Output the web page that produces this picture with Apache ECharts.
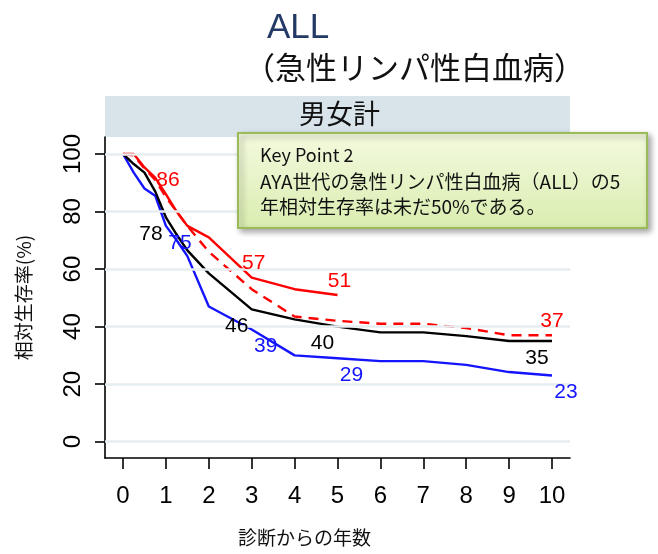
<!DOCTYPE html>
<html>
<head>
<meta charset="utf-8">
<script src="https://cdn.jsdelivr.net/npm/echarts@6/dist/echarts.min.js"></script>
<style>
  html, body { margin: 0; padding: 0; background: #fff; }
  #chart { width: 658px; height: 554px; }
</style>
</head>
<body>
<div id="chart"></div>
<script>
// Years since diagnosis at which survival is plotted
const years = [0, 0.25, 0.5, 0.75, 1, 1.25, 1.5, 2, 3, 4, 5, 6, 7, 8, 9, 10];

// Relative survival (%) per curve
const redSolid  = [100, 100, 95.3, 91.8, 86, 80, 75, 71, 57, 53, 51];
const redDashed = [100, 99.5, 95, 91, 85, 80, 75, 66, 53, 43.5, 42, 41, 41, 39.5, 37, 37];
const black     = [100, 96.5, 93.5, 87, 78, 72, 66.5, 58.5, 46, 42.5, 40, 38, 38, 36.7, 35, 35];
const blue      = [100, 93.5, 88, 85.5, 75, 70, 64.5, 47, 39, 30, 29, 28, 28, 26.7, 24.2, 23];

// Years whose values are written next to each curve
const redSolidLabelYears  = [1, 3, 5];
const redDashedLabelYears = [10];
const blackLabelYears     = [1, 3, 5, 10];
const blueLabelYears      = [1, 3, 5, 10];

// Axis ticks
const xTicks = [0, 1, 2, 3, 4, 5, 6, 7, 8, 9, 10];
const yTicks = [0, 20, 40, 60, 80, 100];

const NUM_FONT = '"Liberation Sans Narrow", "Liberation Sans", Arial, sans-serif';
const JP_FONT = '"Noto Sans CJK JP", "Noto Sans", sans-serif';

const pairs = vals => vals.map((v, i) => [years[i], v]);

function labelSeries(name, vals, labelYears, color, offset) {
  return {
    name: name,
    type: 'scatter',
    silent: true,
    symbolSize: 2,
    itemStyle: { color: 'rgba(0,0,0,0)', opacity: 1 },
    z: 5,
    data: labelYears.map(y => [y, vals[years.indexOf(y)]]),
    label: {
      show: true,
      position: 'inside',
      offset: offset,
      color: color,
      fontFamily: NUM_FONT,
      fontSize: 21,
      formatter: p => String(Math.round(p.value[1]))
    }
  };
}

const chart = echarts.init(document.getElementById('chart'), null, { renderer: 'canvas' });

chart.setOption({
  animation: false,
  backgroundColor: '#ffffff',
  grid: { left: 105, right: 88, top: 137, bottom: 96, containLabel: false },
  xAxis: {
    type: 'value',
    min: -0.42,
    max: 10.42,
    name: '診断からの年数',
    nameLocation: 'middle',
    nameGap: 70,
    nameTextStyle: { fontFamily: JP_FONT, fontSize: 19, color: '#111', padding: [0, 66, 0, 0] },
    axisLine: { show: true, onZero: false, lineStyle: { color: '#000', width: 1.6 } },
    axisTick: { show: true, customValues: xTicks, length: 11, lineStyle: { color: '#000', width: 1.6 } },
    axisLabel: { customValues: xTicks, margin: 26, fontFamily: NUM_FONT, fontSize: 24, color: '#000' },
    splitLine: { show: false }
  },
  yAxis: {
    type: 'value',
    min: -5.67,
    max: 105.9,
    name: '相対生存率(%)',
    nameLocation: 'middle',
    nameGap: 72,
    nameRotate: 90,
    nameTextStyle: { fontFamily: JP_FONT, fontSize: 19, color: '#111' },
    axisLine: { show: true, onZero: false, lineStyle: { color: '#000', width: 1.6 } },
    axisTick: { show: true, customValues: yTicks, length: 10, lineStyle: { color: '#000', width: 1.6 } },
    axisLabel: { customValues: yTicks, rotate: 90, margin: 20, fontFamily: NUM_FONT, fontSize: 24, color: '#000' },
    splitLine: { show: false }
  },
  series: [
    {
      name: 'grid',
      type: 'line',
      data: [],
      silent: true,
      z: 1,
      markLine: {
        silent: true,
        symbol: 'none',
        label: { show: false },
        lineStyle: { color: '#e6eef1', type: 'solid', width: 2.5 },
        data: yTicks.map(v => ({ yAxis: v }))
      }
    },
    {
      name: 'blue',
      type: 'line',
      data: pairs(blue),
      showSymbol: false,
      lineStyle: { color: '#1414ff', width: 2.4 },
      z: 3
    },
    {
      name: 'black',
      type: 'line',
      data: pairs(black),
      showSymbol: false,
      lineStyle: { color: '#000000', width: 2.4 },
      z: 3
    },
    {
      name: 'redDashed',
      type: 'line',
      data: pairs(redDashed),
      showSymbol: false,
      lineStyle: { color: '#ff0000', width: 2.4, type: [10, 7] },
      z: 3
    },
    {
      name: 'redSolid',
      type: 'line',
      data: pairs(redSolid),
      showSymbol: false,
      lineStyle: { color: '#ff0000', width: 2.4 },
      z: 4
    },
    labelSeries('redSolidLabels', redSolid, redSolidLabelYears, '#ff0000', [2, -14]),
    labelSeries('redDashedLabels', redDashed, redDashedLabelYears, '#ff0000', [0, -14]),
    labelSeries('blackLabels', black, blackLabelYears, '#000000', [-15, 17]),
    labelSeries('blueLabels', blue, blueLabelYears, '#1414ff', [14, 17])
  ],
  graphic: [
    {
      type: 'text', left: 267, top: 11, z: 100,
      style: { text: 'ALL', fill: '#243a66', font: '35px ' + NUM_FONT }
    },
    {
      type: 'text', left: 244, top: 52, z: 100,
      style: { text: '（急性リンパ性白血病）', fill: '#111', font: '31px ' + JP_FONT }
    },
    {
      type: 'rect', z: 0,
      shape: { x: 105, y: 96, width: 465, height: 41 },
      style: { fill: '#d8e4ea' }
    },
    {
      type: 'text', z: 100, left: 299, top: 100,
      style: { text: '男女計', fill: '#111', font: '27px ' + JP_FONT }
    },
    {
      type: 'rect', z: 100, zlevel: 1,
      shape: { x: 238, y: 133, width: 409, height: 95 },
      style: {
        fill: new echarts.graphic.LinearGradient(0, 0, 0, 1, [
          { offset: 0, color: '#f4fadf' },
          { offset: 1, color: '#d9edb0' }
        ]),
        stroke: '#9bbb59',
        lineWidth: 2,
        shadowBlur: 6,
        shadowOffsetX: 3,
        shadowOffsetY: 3,
        shadowColor: 'rgba(0,0,0,0.35)'
      }
    },
    {
      type: 'text', z: 101, zlevel: 1,
      style: { x: 260, y: 146, text: 'Key Point 2', fill: '#111', font: '18px ' + JP_FONT }
    },
    {
      type: 'text', z: 101, zlevel: 1,
      style: { x: 260, y: 172, text: 'AYA世代の急性リンパ性白血病（ALL）の5', fill: '#111', font: '19px ' + JP_FONT }
    },
    {
      type: 'text', z: 101, zlevel: 1,
      style: { x: 260, y: 197, text: '年相対生存率は未だ50%である。', fill: '#111', font: '19px ' + JP_FONT }
    }
  ]
});
</script>
</body>
</html>
